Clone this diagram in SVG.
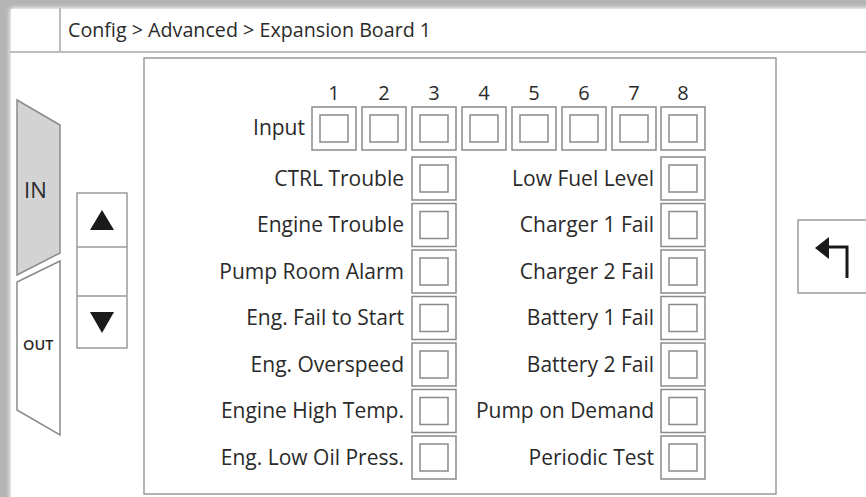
<svg xmlns="http://www.w3.org/2000/svg" width="866" height="497" viewBox="0 0 866 497">
  <defs>
    <filter id="soft" x="-5%" y="-5%" width="110%" height="110%">
      <feGaussianBlur stdDeviation="2"/>
    </filter>
  </defs>
  <style>
    .lbl { font-family: "Open Sans", "Noto Sans", sans-serif; font-size: 21px; fill: #2a2a2a; text-anchor: end; }
    .num { font-family: "Open Sans", "Noto Sans", sans-serif; font-size: 20px; fill: #2a2a2a; text-anchor: middle; }
    .hdr { font-family: "Open Sans", "Noto Sans", sans-serif; font-size: 19.7px; fill: #2a2a2a; }
    .outer { fill: #ffffff; stroke: #8a8a8a; stroke-width: 1.5; }
    .inner { fill: #ffffff; stroke: #8a8a8a; stroke-width: 1.5; }
    .frame { fill: #ffffff; stroke: #9a9a9a; stroke-width: 1.5; }
  </style>

  <!-- device bezel and screen -->
  <rect x="0" y="0" width="866" height="497" fill="#b4b4b4"/>
  <rect x="10" y="8" width="866" height="500" fill="#ffffff" rx="3" filter="url(#soft)"/>
  <rect x="11" y="9" width="866" height="500" fill="#ffffff"/>

  <!-- title bar -->
  <g id="titlebar">
    <line x1="10" y1="52" x2="866" y2="52" stroke="#bcbcbc" stroke-width="2"/>
    <line x1="60" y1="8" x2="60" y2="52" stroke="#bcbcbc" stroke-width="2"/>
    <text class="hdr" x="68" y="37">Config &gt; Advanced &gt; Expansion Board 1</text>
  </g>

  <!-- IN / OUT tabs -->
  <g id="tab-in">
    <polygon points="17,100 60,125 60,253 17,275" fill="#d3d3d3" stroke="#8a8a8a" stroke-width="1.5"/>
    <text x="24" y="198" font-family="Open Sans, Noto Sans, sans-serif" font-size="22" fill="#2a2a2a">IN</text>
  </g>
  <g id="tab-out">
    <polygon points="17,282 60,261 60,435 17,410" fill="#ffffff" stroke="#8a8a8a" stroke-width="1.5"/>
    <text x="23" y="350" font-family="Open Sans, Noto Sans, sans-serif" font-size="14.5" font-weight="600" fill="#2a2a2a">OUT</text>
  </g>

  <!-- scroll buttons -->
  <g id="scroll">
    <rect class="frame" x="77" y="193" width="50" height="155"/>
    <line x1="77" y1="247" x2="127" y2="247" stroke="#9a9a9a" stroke-width="1.5"/>
    <line x1="77" y1="296" x2="127" y2="296" stroke="#9a9a9a" stroke-width="1.5"/>
    <polygon points="102,210 114,230 90,230" fill="#1a1a1a"/>
    <polygon points="90,312 114,312 102,333" fill="#1a1a1a"/>
  </g>

  <!-- back button -->
  <g id="back">
    <rect class="frame" x="798" y="220" width="80" height="73"/>
    <polyline points="847,278 847,247 826,247" fill="none" stroke="#1a1a1a" stroke-width="3"/>
    <polygon points="815,248 829,237 829,259" fill="#1a1a1a"/>
  </g>

  <!-- main panel -->
  <g id="panel">
    <rect class="frame" x="144" y="58" width="632" height="436"/>
  </g>

  <!-- channel numbers -->
  <g id="numbers">
    <text class="num" x="334" y="100">1</text>
    <text class="num" x="384" y="100">2</text>
    <text class="num" x="434" y="100">3</text>
    <text class="num" x="484" y="100">4</text>
    <text class="num" x="534" y="100">5</text>
    <text class="num" x="584" y="100">6</text>
    <text class="num" x="634" y="100">7</text>
    <text class="num" x="683" y="100">8</text>
  </g>

  <!-- input row -->
  <g id="input-row">
    <text class="lbl" x="305" y="135">Input</text>
    <rect class="outer" x="312" y="107" width="44" height="43"/><rect class="inner" x="320" y="115" width="28" height="27"/>
    <rect class="outer" x="362" y="107" width="44" height="43"/><rect class="inner" x="370" y="115" width="28" height="27"/>
    <rect class="outer" x="412" y="107" width="44" height="43"/><rect class="inner" x="420" y="115" width="28" height="27"/>
    <rect class="outer" x="462" y="107" width="44" height="43"/><rect class="inner" x="470" y="115" width="28" height="27"/>
    <rect class="outer" x="512" y="107" width="44" height="43"/><rect class="inner" x="520" y="115" width="28" height="27"/>
    <rect class="outer" x="562" y="107" width="44" height="43"/><rect class="inner" x="570" y="115" width="28" height="27"/>
    <rect class="outer" x="612" y="107" width="44" height="43"/><rect class="inner" x="620" y="115" width="28" height="27"/>
    <rect class="outer" x="661" y="107" width="44" height="43"/><rect class="inner" x="669" y="115" width="28" height="27"/>
  </g>

  <!-- left column (channel 3 side) -->
  <g id="left-col">
    <text class="lbl" x="404" y="186">CTRL Trouble</text>
    <rect class="outer" x="412" y="157" width="44" height="43"/><rect class="inner" x="420" y="165" width="28" height="27"/>
    <text class="lbl" x="404" y="232">Engine Trouble</text>
    <rect class="outer" x="412" y="203.5" width="44" height="43"/><rect class="inner" x="420" y="211.5" width="28" height="27"/>
    <text class="lbl" x="404" y="279">Pump Room Alarm</text>
    <rect class="outer" x="412" y="250" width="44" height="43"/><rect class="inner" x="420" y="258" width="28" height="27"/>
    <text class="lbl" x="404" y="325">Eng. Fail to Start</text>
    <rect class="outer" x="412" y="296.5" width="44" height="43"/><rect class="inner" x="420" y="304.5" width="28" height="27"/>
    <text class="lbl" x="404" y="372">Eng. Overspeed</text>
    <rect class="outer" x="412" y="343" width="44" height="43"/><rect class="inner" x="420" y="351" width="28" height="27"/>
    <text class="lbl" x="404" y="418">Engine High Temp.</text>
    <rect class="outer" x="412" y="389.5" width="44" height="43"/><rect class="inner" x="420" y="397.5" width="28" height="27"/>
    <text class="lbl" x="404" y="465">Eng. Low Oil Press.</text>
    <rect class="outer" x="412" y="436" width="44" height="43"/><rect class="inner" x="420" y="444" width="28" height="27"/>
  </g>

  <!-- right column (channel 8 side) -->
  <g id="right-col">
    <text class="lbl" x="654" y="186">Low Fuel Level</text>
    <rect class="outer" x="661" y="157" width="44" height="43"/><rect class="inner" x="669" y="165" width="28" height="27"/>
    <text class="lbl" x="654" y="232">Charger 1 Fail</text>
    <rect class="outer" x="661" y="203.5" width="44" height="43"/><rect class="inner" x="669" y="211.5" width="28" height="27"/>
    <text class="lbl" x="654" y="279">Charger 2 Fail</text>
    <rect class="outer" x="661" y="250" width="44" height="43"/><rect class="inner" x="669" y="258" width="28" height="27"/>
    <text class="lbl" x="654" y="325">Battery 1 Fail</text>
    <rect class="outer" x="661" y="296.5" width="44" height="43"/><rect class="inner" x="669" y="304.5" width="28" height="27"/>
    <text class="lbl" x="654" y="372">Battery 2 Fail</text>
    <rect class="outer" x="661" y="343" width="44" height="43"/><rect class="inner" x="669" y="351" width="28" height="27"/>
    <text class="lbl" x="654" y="418">Pump on Demand</text>
    <rect class="outer" x="661" y="389.5" width="44" height="43"/><rect class="inner" x="669" y="397.5" width="28" height="27"/>
    <text class="lbl" x="654" y="465">Periodic Test</text>
    <rect class="outer" x="661" y="436" width="44" height="43"/><rect class="inner" x="669" y="444" width="28" height="27"/>
  </g>
</svg>
